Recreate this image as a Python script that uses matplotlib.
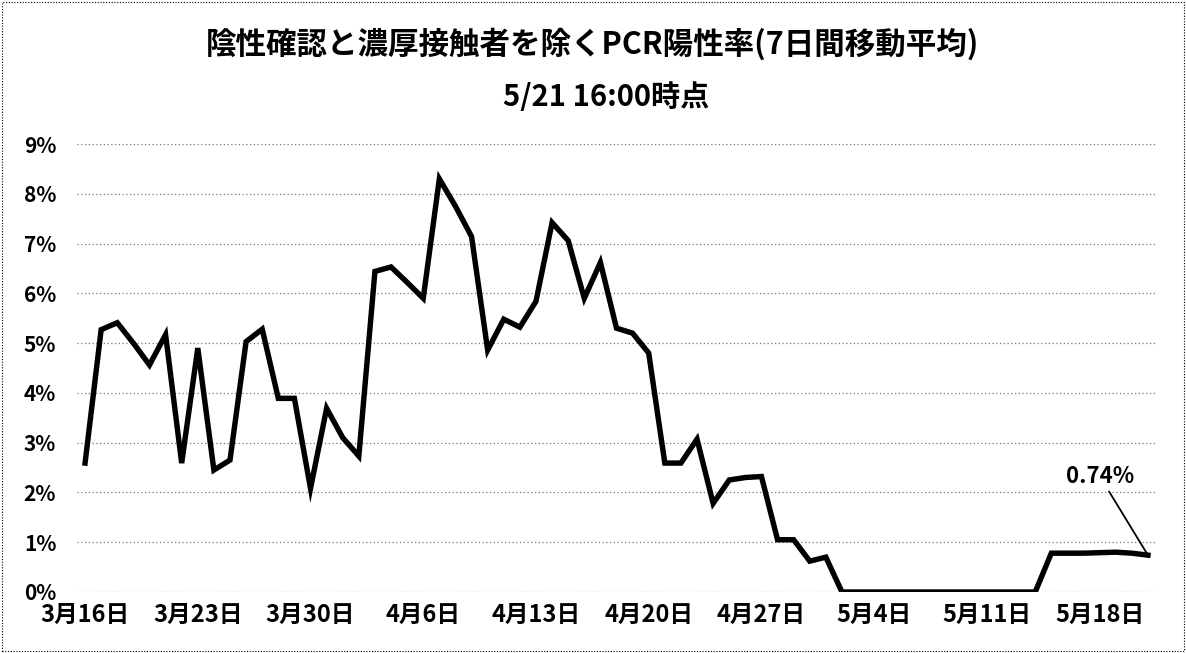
import matplotlib
matplotlib.use("Agg")
import matplotlib.pyplot as plt
from matplotlib.patches import Rectangle
import pandas as pd

plt.rcParams['font.family'] = ['Noto Sans CJK JP', 'DejaVu Sans']

# 7-day moving average of PCR positive rate (%), 3/16 .. 5/21
dates = pd.date_range("2020-03-16", "2020-05-21", freq="D")
rate = [2.59, 5.27, 5.41, 5.00, 4.56, 5.17, 2.59, 4.90, 2.45, 2.65,
        5.03, 5.28, 3.89, 3.89, 2.08, 3.69, 3.10, 2.73, 6.44, 6.53,
        6.22, 5.90, 8.30, 7.75, 7.14, 4.86, 5.48, 5.32, 5.84, 7.42,
        7.06, 5.90, 6.62, 5.30, 5.20, 4.80, 2.59, 2.59, 3.07, 1.78,
        2.25, 2.30, 2.32, 1.05, 1.05, 0.62, 0.70,
        0, 0, 0, 0, 0, 0, 0, 0, 0, 0, 0, 0, 0,
        0.78, 0.78, 0.78, 0.79, 0.80, 0.78, 0.74]
tick_dates = dates[::7]
tick_labels = [f"{d.month}月{d.day}日" for d in tick_dates]
y_ticks = list(range(0, 10))

title1 = "陰性確認と濃厚接触者を除くPCR陽性率(7日間移動平均)"
title2 = "5/21 16:00時点"

fig = plt.figure(figsize=(11.86, 6.53), dpi=100)
ax = fig.add_axes([77 / 1186, 61 / 653, (1156 - 77) / 1186, (592 - 144) / 653])

ax.plot(dates, rate, color="black", linewidth=3.9, solid_joinstyle="miter")

ax.set_ylim(0, 9)
ax.set_xlim(dates[0] - pd.Timedelta(hours=12), dates[-1] + pd.Timedelta(hours=12))
ax.set_yticks(y_ticks)
ax.set_yticklabels([f"{v}%" for v in y_ticks], fontsize=15, fontweight="bold")
ax.set_xticks(tick_dates)
ax.set_xticklabels(tick_labels, fontsize=17, fontweight="bold")
ax.tick_params(axis="y", length=0, pad=15)
ax.tick_params(axis="x", length=0, pad=8)
ax.grid(axis="y", linestyle=(0, (1, 2)), color="#777777", linewidth=0.9)
for s in ax.spines.values():
    s.set_visible(False)

# label for the last value
ax.annotate(f"{rate[-1]:.2f}%", xy=(dates[-1], rate[-1]),
            xytext=(dates[0] + pd.Timedelta(days=63), 2.33),
            ha="center", va="center", fontsize=16, fontweight="bold",
            arrowprops=dict(arrowstyle="-", color="black", lw=1.3, shrinkA=1, shrinkB=0))

fig.text(0.5, 1 - 44 / 653, title1, ha="center", va="center", fontsize=22, fontweight="bold")
fig.text(0.511, 1 - 97 / 653, title2, ha="center", va="center", fontsize=21, fontweight="bold")

# dotted outer border
fig.patches.append(Rectangle((0.002, 0.003), 0.996, 0.994, transform=fig.transFigure,
                             fill=False, edgecolor="black", linestyle=(0, (1, 1.5)), linewidth=0.8))

fig.savefig("out.png", dpi=100)
